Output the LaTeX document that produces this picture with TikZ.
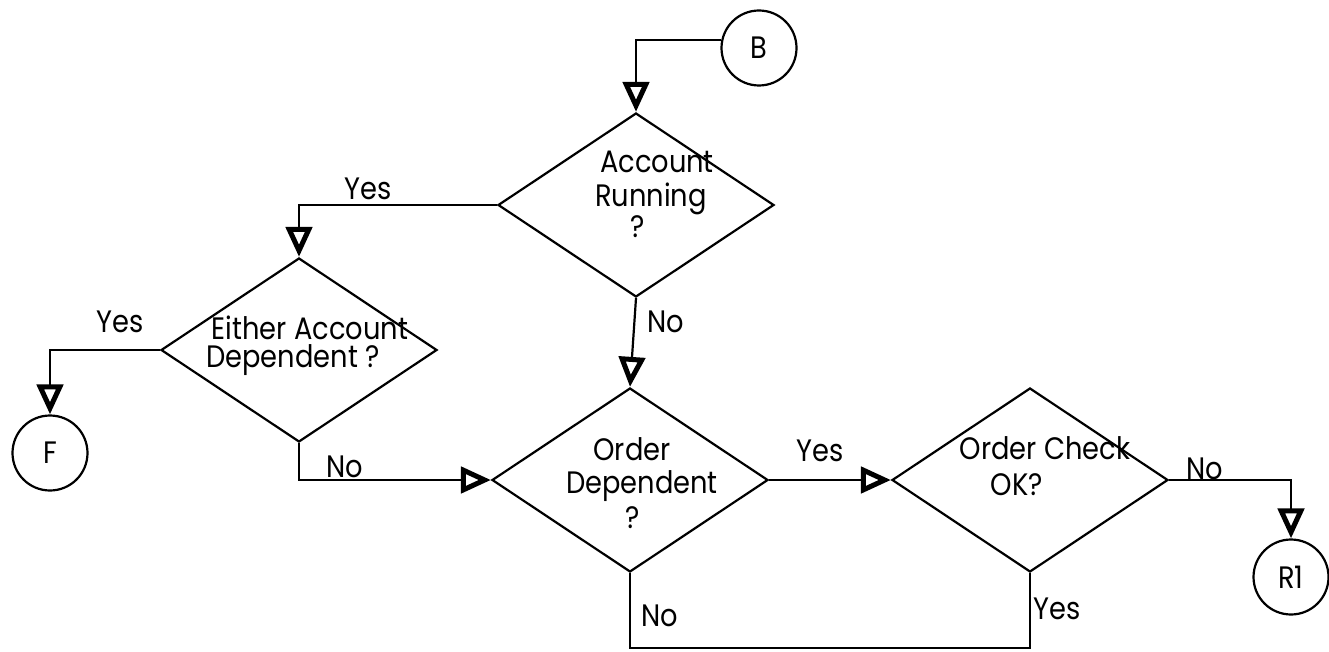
\documentclass[tikz,border=0pt]{standalone}
\usepackage{fontspec}
\setmainfont{Poppins}[FakeStretch=0.88]
\usetikzlibrary{shapes.geometric,arrows.meta}
\begin{document}
\begin{tikzpicture}[x=1pt,y=-1pt,
  every node/.style={font=\fontsize{31}{34}\selectfont},
  dia/.style={draw, shape=diamond, minimum width=276pt, minimum height=184pt, inner sep=0pt, line width=2.2pt},
  conn/.style={draw, circle, minimum size=75pt, inner sep=0pt, line width=2.2pt},
  txt/.style={anchor=base, inner sep=0pt},
  flow/.style={line width=2.2pt, -{Triangle[open,length=30pt,width=26pt,line width=5pt]}},
  plain/.style={line width=2.2pt}]
\useasboundingbox (0,0) rectangle (1329,652);
% connectors (circles)
\node[conn] (B) at (759,48) {B};
\node[conn] (F) at (50,453) {F};
\node[conn] (R1) at (1291,577) {R1};
% decisions
\node[dia] (AR) at (636,205) {};
\node[dia] (ED) at (299,350) {};
\node[dia] (OD) at (630,480) {};
\node[dia] (OC) at (1030,480) {};
% decision texts
\node[txt] (t1a) at (657,173) {Account};
\node[txt] (t1b) at (651,207) {Running};
\node[txt] (t1c) at (638,237) {?};
\node[txt] (t2a) at (310,339) {Either Account};
\node[txt] (t2b) at (293,367) {Dependent ?};
\node[txt] (t3a) at (632,460) {Order};
\node[txt] (t3b) at (642,493) {Dependent};
\node[txt] (t3c) at (633,528) {?};
\node[txt] (t4a) at (1045,459) {Order Check};
\node[txt] (t4b) at (1017,495) {OK?};
% branch labels
\node[txt] (y1) at (368,200) {Yes};
\node[txt] (y2) at (120,332) {Yes};
\node[txt] (n1) at (345,477) {No};
\node[txt] (n2) at (666,332) {No};
\node[txt] (y3) at (820,461) {Yes};
\node[txt] (n3) at (1205,479) {No};
\node[txt] (n4) at (660,626) {No};
\node[txt] (y4) at (1057,619) {Yes};
% flow lines
\coordinate (bot) at (0,648);
\draw[flow] (B.168) -| (AR.north);
\draw[flow] (AR.west) -| (ED.north);
\draw[flow] (ED.west) -| (F.north);
\draw[flow] (ED.south) |- (OD.west);
\draw[flow] (AR.south) -- (OD.north);
\draw[flow] (OD.east) -- (OC.west);
\draw[flow] (OC.east) -| (R1.north);
\draw[plain] (OD.south) -- (OD.south |- bot) -| (OC.south);
\end{tikzpicture}
\end{document}
